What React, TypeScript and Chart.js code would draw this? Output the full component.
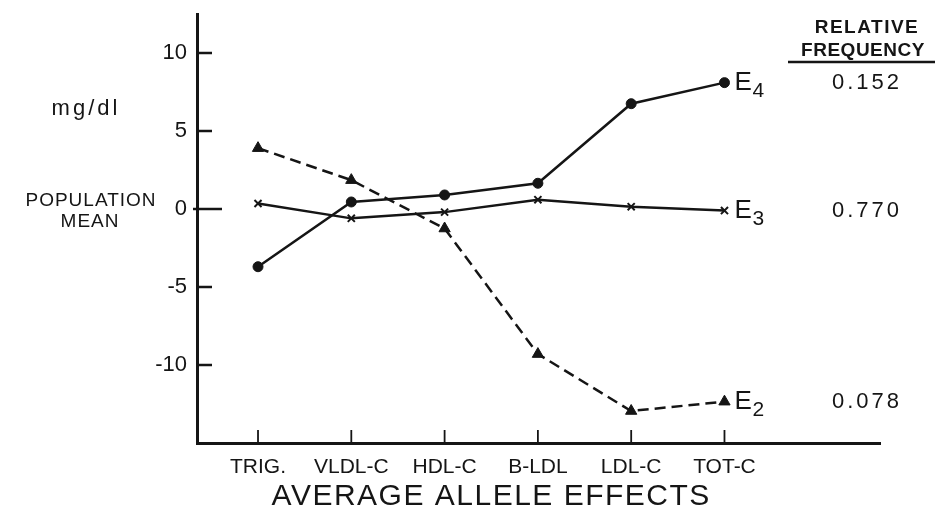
import React, { useEffect, useRef } from 'react';
import { Chart, registerables } from 'chart.js';

Chart.register(...registerables);

const categories = ['TRIG.', 'VLDL-C', 'HDL-C', 'B-LDL', 'LDL-C', 'TOT-C'];
const e4Values = [-3.7, 0.45, 0.9, 1.65, 6.75, 8.1];
const e3Values = [0.35, -0.6, -0.2, 0.6, 0.15, -0.1];
const e2Values = [3.9, 1.85, -1.25, -9.3, -12.95, -12.35];
const yTickValues = [10, 5, 0, -5, -10];
const seriesSubscripts = ['4', '3', '2'];
const frequencies = ['0.152', '0.770', '0.078'];
const frequencyHeader = ['RELATIVE', 'FREQUENCY'];
const xTitle = 'AVERAGE ALLELE EFFECTS';
const unitLabel = 'mg/dl';
const yTitleLines = ['POPULATION', 'MEAN'];

const ink = '#151515';
const FONT = '"Liberation Sans", Arial, sans-serif';

const overlay = {
  id: 'overlay',
  afterDraw(chart: any) {
    const ctx: CanvasRenderingContext2D = chart.ctx;
    const xs = chart.scales.x;
    const ys = chart.scales.y;
    const area = chart.chartArea;
    ctx.save();
    ctx.strokeStyle = ink;
    ctx.fillStyle = ink;
    // inward ticks on y axis
    ctx.lineWidth = 2.5;
    yTickValues.forEach((v) => {
      const py = ys.getPixelForValue(v);
      ctx.beginPath();
      ctx.moveTo(area.left - (v === 0 ? 4 : 0), py);
      ctx.lineTo(area.left + (v === 0 ? 25 : 15), py);
      ctx.stroke();
    });
    // inward ticks on x axis
    ctx.lineWidth = 1.8;
    categories.forEach((_, i) => {
      const px = xs.getPixelForValue(i);
      ctx.beginPath();
      ctx.moveTo(px, area.bottom);
      ctx.lineTo(px, area.bottom - 13);
      ctx.stroke();
    });

    const c = ctx as any;
    ctx.textBaseline = 'middle';

    // unit label
    ctx.font = `22px ${FONT}`;
    c.letterSpacing = '3px';
    ctx.textAlign = 'center';
    ctx.fillText(unitLabel, 86, 109);

    // population mean
    ctx.font = `19px ${FONT}`;
    c.letterSpacing = '1px';
    ctx.fillText(yTitleLines[0], 91, 201);
    ctx.fillText(yTitleLines[1], 90, 222);

    // series end labels and frequencies
    chart.data.datasets.forEach((_: any, i: number) => {
      const meta = chart.getDatasetMeta(i);
      const pt = meta.data[meta.data.length - 1];
      ctx.textAlign = 'left';
      c.letterSpacing = '0px';
      ctx.font = `26px ${FONT}`;
      ctx.fillText('E', pt.x + 10, pt.y);
      ctx.font = `21px ${FONT}`;
      ctx.fillText(seriesSubscripts[i], pt.x + 28, pt.y + 9);
      ctx.font = `22px ${FONT}`;
      c.letterSpacing = '3px';
      ctx.fillText(frequencies[i], 832, pt.y);
    });

    // header
    ctx.textAlign = 'center';
    ctx.font = `bold 19px ${FONT}`;
    c.letterSpacing = '1.5px';
    ctx.fillText(frequencyHeader[0], 867, 28);
    c.letterSpacing = '0.5px';
    ctx.fillText(frequencyHeader[1], 863, 51);
    ctx.lineWidth = 2.5;
    ctx.beginPath();
    ctx.moveTo(788, 62);
    ctx.lineTo(935, 62);
    ctx.stroke();

    // x title
    const cx = (xs.getPixelForValue(0) + xs.getPixelForValue(categories.length - 1)) / 2;
    ctx.font = `30px ${FONT}`;
    c.letterSpacing = '1.5px';
    ctx.fillText(xTitle, cx, 497);
    ctx.restore();
  },
};

export default function App() {
  const ref = useRef<HTMLCanvasElement>(null);
  useEffect(() => {
    document.body.style.margin = '0';
    const toPoints = (vals: number[]) => vals.map((y, i) => ({ x: i, y }));
    const chart = new Chart(ref.current as HTMLCanvasElement, {
      type: 'line',
      data: {
        datasets: [
          {
            label: 'E4',
            data: toPoints(e4Values),
            borderColor: ink,
            borderWidth: 2.5,
            pointStyle: 'circle',
            pointRadius: 5,
            pointBackgroundColor: ink,
            pointBorderColor: ink,
            pointBorderWidth: 1,
          },
          {
            label: 'E3',
            data: toPoints(e3Values),
            borderColor: ink,
            borderWidth: 2.5,
            pointStyle: 'crossRot',
            pointRadius: 5,
            pointBackgroundColor: ink,
            pointBorderColor: ink,
            pointBorderWidth: 2,
          },
          {
            label: 'E2',
            data: toPoints(e2Values),
            borderColor: ink,
            borderWidth: 2.5,
            borderDash: [11, 6],
            pointStyle: 'triangle',
            pointRadius: 6.5,
            pointBackgroundColor: ink,
            pointBorderColor: ink,
            pointBorderWidth: 1,
          },
        ],
      },
      options: {
        responsive: false,
        animation: false,
        events: [],
        layout: { padding: { top: 14, right: 58, bottom: 0, left: 0 } },
        plugins: { legend: { display: false }, tooltip: { enabled: false } },
        scales: {
          x: {
            type: 'linear',
            min: -0.654,
            max: 6.667,
            grid: { display: false, drawTicks: false },
            border: { display: true, color: ink, width: 3 },
            afterBuildTicks: (scale: any) => {
              scale.ticks = categories.map((_, i) => ({ value: i }));
            },
            afterFit: (scale: any) => {
              scale.height = 72;
              scale.paddingLeft = 0;
              scale.paddingRight = 0;
            },
            ticks: {
              autoSkip: false,
              maxRotation: 0,
              padding: 12,
              color: ink,
              font: { family: FONT, size: 21 },
              callback: (v: any) => categories[v] ?? '',
            },
          },
          y: {
            type: 'linear',
            min: -15,
            max: 12.5,
            grid: { display: false, drawTicks: false },
            border: { display: true, color: ink, width: 3 },
            afterBuildTicks: (scale: any) => {
              scale.ticks = yTickValues.map((v) => ({ value: v }));
            },
            afterFit: (scale: any) => {
              scale.width = 197;
              scale.paddingTop = 0;
              scale.paddingBottom = 0;
            },
            ticks: {
              padding: 10,
              color: ink,
              font: { family: FONT, size: 22 },
              callback: (v: any) => String(v),
            },
          },
        },
      },
      plugins: [overlay],
    } as any);
    return () => chart.destroy();
  }, []);
  return (
    <div style={{ width: 938, height: 515, position: 'relative', background: '#fff' }}>
      <canvas ref={ref} width={938} height={515} style={{ display: 'block' }} />
    </div>
  );
}
